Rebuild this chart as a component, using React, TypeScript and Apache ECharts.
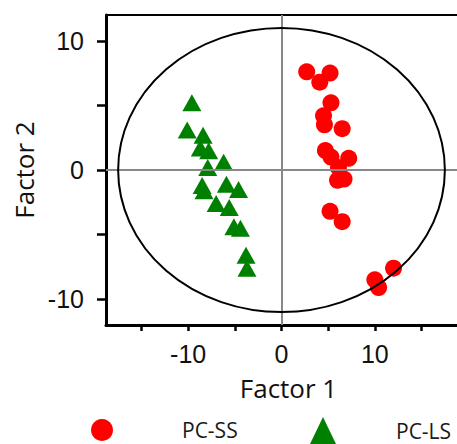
import React, { useEffect, useRef } from 'react';
import * as echarts from 'echarts';

// PC-SS (red circles): [Factor 1, Factor 2]
const pcSS: [number, number][] = [
  [2.7, 7.6], [5.2, 7.5], [4.1, 6.8], [5.3, 5.2], [4.5, 4.2], [4.6, 3.5],
  [6.5, 3.2], [4.7, 1.5], [5.3, 1.0], [7.2, 0.9], [6.1, 0.2], [6.7, -0.7],
  [6.0, -0.8], [5.2, -3.2], [6.5, -4.0], [10.0, -8.5], [10.4, -9.1], [12.0, -7.6],
];

// PC-LS (green triangles)
const pcLS: [number, number][] = [
  [-9.6, 5.2], [-10.1, 3.1], [-8.4, 2.7], [-8.7, 1.7], [-7.8, 1.5], [-6.2, 0.6],
  [-7.9, 0.2], [-8.5, -1.2], [-8.3, -1.6], [-5.9, -1.1], [-4.6, -1.5], [-7.0, -2.6],
  [-5.6, -2.9], [-5.1, -4.4], [-4.4, -4.5], [-3.8, -6.6], [-3.7, -7.6],
];

const xTicks = [-15, -10, -5, 0, 5, 10, 15];
const xLabels = [-10, 0, 10];
const yTicks = [-10, -5, 0, 5, 10];
const yLabels = [-10, 0, 10];
// confidence ellipse: centre x, centre y, radius x, radius y
const ellipse = [[0, 0, 17.5, 11]];

const X_MIN = -18.8;
const X_MAX = 18.8;
const Y_MIN = -12;
const Y_MAX = 12;

export default function App() {
  const ref = useRef<HTMLDivElement>(null);
  useEffect(() => {
    const chart = echarts.init(ref.current!, null, { renderer: 'svg' });
    const tickFont = '"Liberation Sans", Arial, sans-serif';
    const nameFont = '"Open Sans", "Noto Sans", sans-serif';
    chart.setOption({
      animation: false,
      backgroundColor: '#fff',
      grid: { left: 106, top: 15, width: 354, height: 310, containLabel: false },
      xAxis: [
        {
          type: 'value',
          min: X_MIN,
          max: X_MAX,
          position: 'bottom',
          name: 'Factor 1',
          nameLocation: 'middle',
          nameGap: 50,
          nameTextStyle: { fontFamily: nameFont, fontSize: 26, color: '#111', padding: [0, 0, 0, 14] },
          axisLine: { show: true, onZero: false, lineStyle: { color: '#000', width: 3 } },
          axisTick: { show: true, inside: false, length: 6, customValues: xTicks, lineStyle: { color: '#000', width: 2.5 } },
          axisLabel: { show: true, customValues: xLabels, margin: 16, fontFamily: tickFont, fontSize: 25, color: '#111' },
          splitLine: { show: false },
        },
        {
          type: 'value',
          min: X_MIN,
          max: X_MAX,
          position: 'top',
          axisLine: { show: true, onZero: false, lineStyle: { color: '#000', width: 2 } },
          axisTick: { show: false },
          axisLabel: { show: false },
          splitLine: { show: false },
        },
      ],
      yAxis: {
        type: 'value',
        min: Y_MIN,
        max: Y_MAX,
        name: 'Factor 2',
        nameLocation: 'middle',
        nameRotate: 90,
        nameGap: 68,
        nameTextStyle: { fontFamily: nameFont, fontSize: 26, color: '#111' },
        axisLine: { show: true, onZero: false, lineStyle: { color: '#000', width: 3 } },
        axisTick: { show: true, inside: false, length: 9, customValues: yTicks, lineStyle: { color: '#000', width: 2.5 } },
        axisLabel: { show: true, customValues: yLabels, margin: 22, fontFamily: tickFont, fontSize: 25, color: '#111' },
        splitLine: { show: false },
      },
      legend: [
        {
          data: [{ name: 'PC-SS', icon: 'circle' }],
          left: 91,
          top: 419,
          padding: 0,
          itemWidth: 22,
          itemHeight: 24,
          textStyle: { fontFamily: nameFont, fontSize: 21, color: '#1a1a1a', padding: [0, 0, 0, 64] },
        },
        {
          data: [{ name: 'PC-LS', icon: 'triangle' }],
          left: 310,
          top: 417,
          padding: 0,
          itemWidth: 26,
          itemHeight: 27,
          textStyle: { fontFamily: nameFont, fontSize: 21, color: '#1a1a1a', padding: [0, 0, 0, 55] },
        },
      ],
      series: [
        {
          name: 'PC-SS',
          type: 'scatter',
          symbol: 'circle',
          symbolSize: 17,
          itemStyle: { color: '#ff0000', opacity: 1 },
          data: pcSS,
          z: 2,
        },
        {
          name: 'PC-LS',
          type: 'scatter',
          symbol: 'triangle',
          symbolSize: [19, 17],
          itemStyle: { color: '#008000', opacity: 1 },
          data: pcLS,
          z: 2,
        },
        {
          name: 'ellipse',
          type: 'custom',
          clip: false,
          silent: true,
          z: 5,
          data: ellipse,
          renderItem: (params: any, api: any) => {
            const c = api.coord([api.value(0), api.value(1)]);
            const s = api.size([api.value(2), api.value(3)]);
            const cx = c[0];
            const cy = c[1];
            const rx = s[0];
            const ry = s[1];
            const d = `M ${cx - rx} ${cy} A ${rx} ${ry} 0 1 0 ${cx + rx} ${cy} A ${rx} ${ry} 0 1 0 ${cx - rx} ${cy} Z`;
            return {
              type: 'path',
              shape: { pathData: d, x: cx - rx, y: cy - ry, width: rx * 2, height: ry * 2 },
              style: { fill: 'none', stroke: '#000', lineWidth: 2 },
            };
          },
          markLine: {
            silent: true,
            symbol: 'none',
            label: { show: false },
            lineStyle: { color: '#888', width: 2, type: 'solid' },
            data: [{ xAxis: 0 }, { yAxis: 0 }],
          },
        },
      ],
    });
    return () => chart.dispose();
  }, []);
  return <div ref={ref} style={{ position: 'fixed', left: 0, top: 0, width: 457, height: 444 }} />;
}
